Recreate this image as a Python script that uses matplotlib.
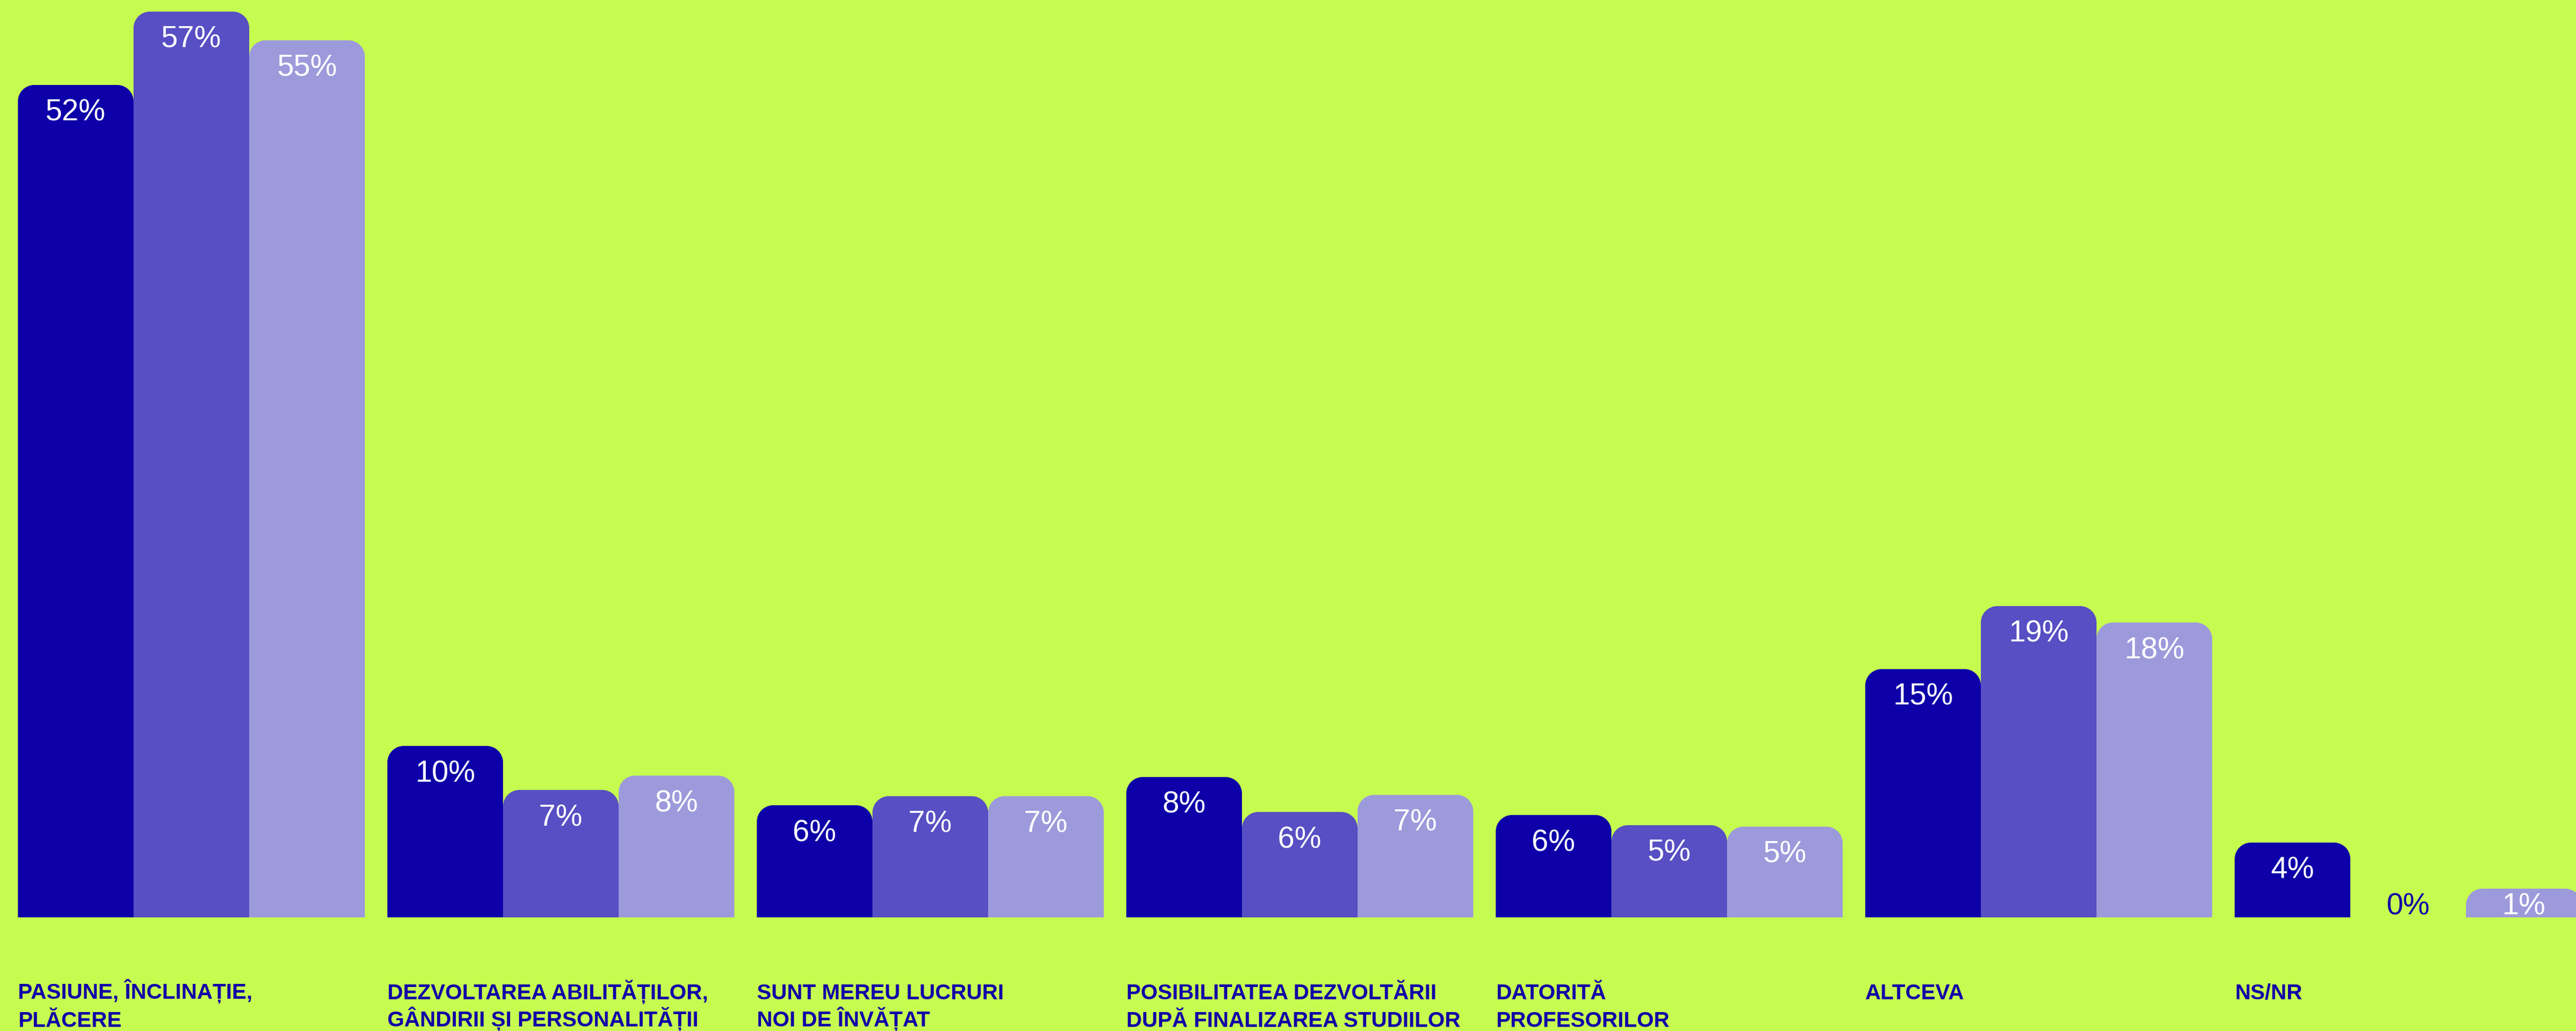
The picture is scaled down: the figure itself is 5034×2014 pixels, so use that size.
import matplotlib
matplotlib.use("Agg")
import matplotlib.pyplot as plt
from matplotlib.patches import PathPatch
from matplotlib.path import Path
from matplotlib import transforms

categories = [
    "PASIUNE, ÎNCLINAȚIE,\nPLĂCERE",
    "DEZVOLTAREA ABILITĂȚILOR,\nGÂNDIRII ȘI PERSONALITĂȚII",
    "SUNT MEREU LUCRURI\nNOI DE ÎNVĂȚAT",
    "POSIBILITATEA DEZVOLTĂRII\nDUPĂ FINALIZAREA STUDIILOR",
    "DATORITĂ\nPROFESORILOR",
    "ALTCEVA",
    "NS/NR",
]
# bar heights (%), and the printed labels
series_a = [52.2, 10.75, 7.03, 8.8, 6.42, 15.57, 4.69]
series_b = [56.8, 7.99, 7.6, 6.61, 5.78, 19.52, 0.0]
series_c = [55.0, 8.89, 7.6, 7.68, 5.69, 18.49, 1.8]
labels_a = ["52%", "10%", "6%", "8%", "6%", "15%", "4%"]
labels_b = ["57%", "7%", "7%", "6%", "5%", "19%", "0%"]
labels_c = ["55%", "8%", "7%", "7%", "5%", "18%", "1%"]

bg = "#C6FB50"
colors = ["#0D00A8", "#574FC3", "#9D9ADB"]
text_dark = "#1200A6"

W, H = 5034, 2015
base_px = 1793          # baseline, px from top
px_per_pct = 31.15
bar_w = 226
group_step = 722
left0 = 35

fig = plt.figure(figsize=(W / 100, H / 100), dpi=100)
fig.patch.set_facecolor(bg)
ax = fig.add_axes([0, (H - base_px) / H, 1, base_px / H])
ax.set_facecolor(bg)
ax.set_xlim(0, W)
ax.set_ylim(0, base_px / px_per_pct)
ax.axis("off")


def top_rounded(x0, w, h, rx, ry):
    # rectangle with rounded top corners, bottom pushed below the axis (clipped)
    k = 0.5523
    x1 = x0 + w
    yb = -2.0
    verts = [(x0, yb), (x0, h - ry),
             (x0, h - ry + k * ry), (x0 + rx - k * rx, h), (x0 + rx, h),
             (x1 - rx, h),
             (x1 - rx + k * rx, h), (x1, h - ry + k * ry), (x1, h - ry),
             (x1, yb), (x0, yb)]
    codes = [Path.MOVETO, Path.LINETO,
             Path.CURVE4, Path.CURVE4, Path.CURVE4,
             Path.LINETO,
             Path.CURVE4, Path.CURVE4, Path.CURVE4,
             Path.LINETO, Path.CLOSEPOLY]
    return Path(verts, codes)


radius = 32
series = [series_a, series_b, series_c]
labels = [labels_a, labels_b, labels_c]

for j in range(3):
    xs = [left0 + group_step * i + bar_w * j for i in range(len(categories))]
    bars = ax.bar(xs, series[j], width=bar_w, align="edge", color=colors[j])
    for k, rect in enumerate(bars):
        rect.set_visible(False)
        h = rect.get_height()
        x0 = rect.get_x()
        if h > 0:
            ry = min(radius / px_per_pct, h)
            ax.add_patch(PathPatch(top_rounded(x0, rect.get_width(), h, radius, ry),
                                   facecolor=colors[j], edgecolor="none"))
        # value label: 27px below the bar top, kept inside the bar for small bars
        ly = max(h - 69 / px_per_pct, 6 / px_per_pct)
        col = "white" if h > 0 else text_dark
        ax.text(x0 + bar_w / 2, ly, labels[j][k], ha="center", va="baseline",
                fontsize=42.3, color=col, family=["Liberation Sans", "DejaVu Sans"])

tr = transforms.blended_transform_factory(ax.transData, fig.transFigure)
line_base = [1952, 2006]
for i, cat in enumerate(categories):
    for n, line in enumerate(cat.split("\n")):
        ax.text(left0 + group_step * i, (H - line_base[n]) / H, line, transform=tr,
                ha="left", va="baseline", fontsize=30.5, fontweight="bold",
                color=text_dark, clip_on=False,
                family=["Liberation Sans Narrow", "Liberation Sans", "DejaVu Sans"])

fig.savefig("out.png", dpi=100, facecolor=bg)
